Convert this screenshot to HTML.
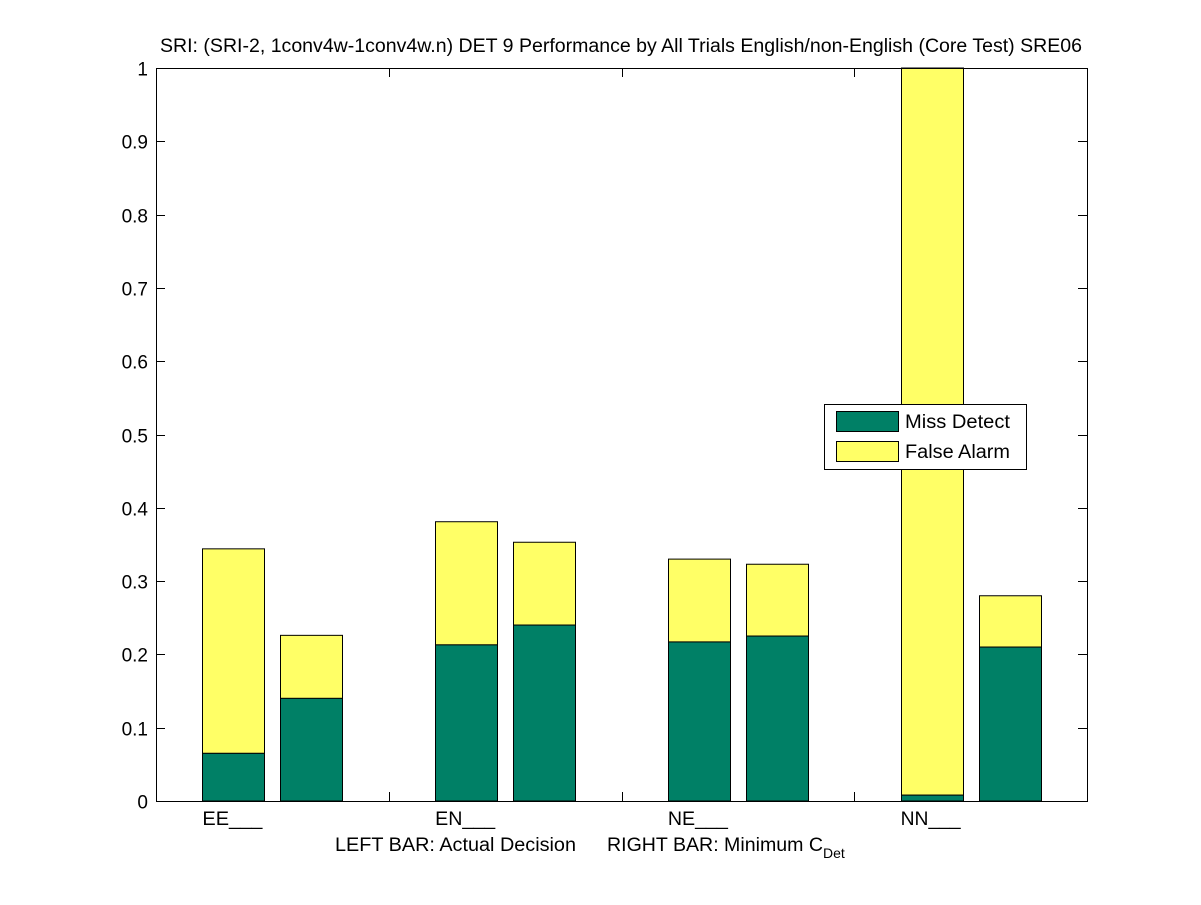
<!DOCTYPE html>
<html><head><meta charset="utf-8"><style>
body{margin:0;background:#fff;}
svg text{font-family:"Liberation Sans",sans-serif;font-size:19px;fill:#000;}
</style></head><body>
<svg id="c" width="1201" height="900" xmlns="http://www.w3.org/2000/svg">
<rect width="1201" height="900" fill="#fff"/>
<text x="160" y="52" textLength="922" lengthAdjust="spacingAndGlyphs">SRI: (SRI-2, 1conv4w-1conv4w.n) DET 9 Performance by All Trials English/non-English (Core Test) SRE06</text>
<g id="plot"></g>
<text x="335" y="851" textLength="241" lengthAdjust="spacingAndGlyphs">LEFT BAR: Actual Decision</text>
<text x="607" y="851"><tspan textLength="216" lengthAdjust="spacingAndGlyphs">RIGHT BAR: Minimum C</tspan><tspan font-size="14" dy="7">Det</tspan></text>
<g>
<rect x="824.5" y="404.5" width="202" height="65" fill="#fff" stroke="#000"/>
<rect x="836.5" y="411.5" width="62" height="20" fill="#008066" stroke="#000"/>
<text x="905" y="428" textLength="105" lengthAdjust="spacingAndGlyphs">Miss Detect</text>
<rect x="836.5" y="441.5" width="62" height="20" fill="#ffff66" stroke="#000"/>
<text x="905" y="458" textLength="105" lengthAdjust="spacingAndGlyphs">False Alarm</text>
</g>
</svg>
<script>
const categories=["EE___","EN___","NE___","NN___"];
const missActual=[0.065,0.213,0.217,0.008];
const totalActual=[0.344,0.381,0.330,1.0];
const missMin=[0.140,0.240,0.225,0.210];
const totalMin=[0.226,0.353,0.323,0.280];
const yTicks=[0,0.1,0.2,0.3,0.4,0.5,0.6,0.7,0.8,0.9,1];
const yTickLabels=["0","0.1","0.2","0.3","0.4","0.5","0.6","0.7","0.8","0.9","1"];

const L=156,R=1087,T=68,B=801;
const NS="http://www.w3.org/2000/svg";
const g=document.getElementById('plot');
const gw=(R-L)/categories.length;
function y(v){return B-v*(B-T);}
function gx(i){return L+gw*(i+0.5);}
function mk(tag,attrs){const e=document.createElementNS(NS,tag);for(const k in attrs)e.setAttribute(k,attrs[k]);g.appendChild(e);return e;}
mk('rect',{x:L,y:T,width:R-L,height:B-T,fill:'#fff',stroke:'none'});
yTicks.forEach((v,i)=>{
  const yy=Math.round(y(v))+0.5;
  const t1=mk('line',{x1:L,x2:L+9,y1:yy,y2:yy,stroke:'#000'});
  
  
  mk('line',{x1:R-9,x2:R,y1:yy,y2:yy,stroke:'#000'});
  const tx=mk('text',{x:L-8,y:yy+7,'text-anchor':'end'});
  tx.textContent=yTickLabels[i];
  
  
});
for(let i=1;i<categories.length;i++){
  const xx=Math.round(L+gw*i)+0.5;
  mk('line',{x1:xx,x2:xx,y1:B,y2:B-9,stroke:'#000'});
  mk('line',{x1:xx,x2:xx,y1:T,y2:T+9,stroke:'#000'});
}
const bw=62;
function bar(cx,miss,total,name){
  const x=Math.round(cx-bw/2)+0.5;
  const a=mk('rect',{x:x,y:y(total),width:bw,height:y(miss)-y(total),fill:'#ffff66',stroke:'#000'});
  
  
  const b=mk('rect',{x:x,y:y(miss),width:bw,height:B-y(miss),fill:'#008066',stroke:'#000'});
  
  
}
categories.forEach((c,i)=>{
  const cx=gx(i);
  bar(cx-39,missActual[i],totalActual[i],'bar-'+c.replace(/_/g,'').toLowerCase()+'-actual');
  bar(cx+39,missMin[i],totalMin[i],'bar-'+c.replace(/_/g,'').toLowerCase()+'-min');
  const t=mk('text',{x:cx-40,y:B+24,'text-anchor':'middle',textLength:60,lengthAdjust:'spacingAndGlyphs'});
  t.textContent=c;
  
  
});
const f=mk('rect',{x:L+0.5,y:T+0.5,width:R-L,height:B-T,fill:'none',stroke:'#000'});


</script>
</body></html>
